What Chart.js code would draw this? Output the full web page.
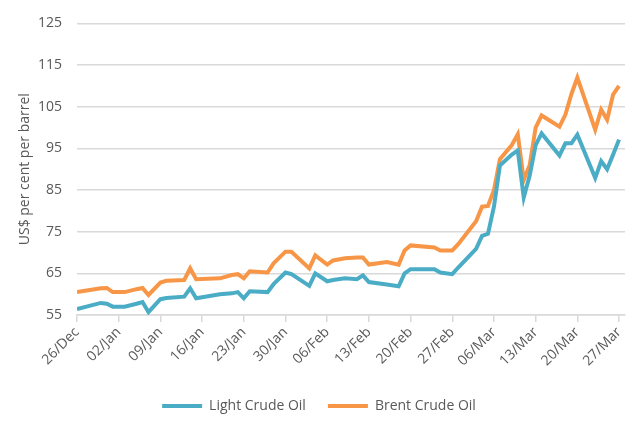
<!DOCTYPE html>
<html>
<head>
<meta charset="utf-8">
<script src="https://cdn.jsdelivr.net/npm/chart.js@4"></script>
<style>
  html, body { margin: 0; padding: 0; background: #fff; }
  #wrap { width: 636px; height: 423px; }
</style>
</head>
<body>
<div id="wrap"><canvas id="oilPrices"></canvas></div>
<script>
// day index counted from 26/Dec (only the days where the line turns)
const days = [0, 4, 5, 6, 8, 10, 11, 12, 14, 15, 18, 19, 20, 24, 26, 27, 28, 29, 32, 33,
  35, 36, 39, 40, 42, 43, 45, 47, 48, 49, 52, 54, 55, 56, 60, 61, 63, 64, 67, 68,
  69, 70, 71, 73, 74, 75, 76, 77, 78, 81, 82, 83, 84, 87, 88, 89, 90, 91];
const lightCrude = [56.4, 57.9, 57.7, 57.0, 57.0, 57.7, 58.1, 55.7, 58.8, 59.1, 59.4, 61.4, 59.0, 60.0, 60.2, 60.5, 59.0, 60.7, 60.5, 62.4,
  65.2, 64.8, 62.0, 65.0, 63.1, 63.4, 63.8, 63.6, 64.5, 62.9, 62.3, 61.9, 65.0, 66.0, 66.0, 65.2, 64.8, 66.4, 70.9, 74.0,
  74.5, 81.0, 90.9, 93.5, 94.5, 83.2, 88.5, 95.8, 98.6, 93.3, 96.2, 96.2, 98.3, 87.9, 91.9, 90.0, 93.5, 97.1];
const brentCrude = [60.5, 61.4, 61.5, 60.5, 60.5, 61.2, 61.5, 59.8, 62.8, 63.2, 63.4, 66.2, 63.6, 63.8, 64.6, 64.8, 63.8, 65.5, 65.2, 67.4,
  70.2, 70.2, 66.2, 69.3, 67.1, 68.1, 68.6, 68.8, 68.8, 67.1, 67.7, 67.1, 70.5, 71.7, 71.2, 70.5, 70.5, 72.0, 77.5, 81.0,
  81.2, 85.0, 92.4, 95.8, 98.4, 87.4, 91.0, 100.0, 102.9, 100.2, 103.1, 108.0, 112.0, 99.5, 104.3, 101.9, 107.9, 110.0];
const tickLabels = ['26/Dec', '02/Jan', '09/Jan', '16/Jan', '23/Jan', '30/Jan', '06/Feb',
  '13/Feb', '20/Feb', '27/Feb', '06/Mar', '13/Mar', '20/Mar', '27/Mar'];

const textColor = '#595959';
const fontFamily = '"Open Sans", sans-serif';

const oilPrices = new Chart(document.getElementById('oilPrices'), {
  type: 'line',
  data: {
    datasets: [
      {
        label: 'Light Crude Oil',
        data: days.map((d, i) => ({ x: d, y: lightCrude[i] })),
        borderColor: '#4BACC6',
        backgroundColor: '#4BACC6',
        borderWidth: 4,
        pointRadius: 0,
        tension: 0,
      },
      {
        label: 'Brent Crude Oil',
        data: days.map((d, i) => ({ x: d, y: brentCrude[i] })),
        borderColor: '#F79646',
        backgroundColor: '#F79646',
        borderWidth: 4,
        pointRadius: 0,
        tension: 0,
      },
    ],
  },
  options: {
    responsive: true,
    maintainAspectRatio: false,
    animation: false,
    layout: { padding: { left: 13, right: 11, top: 11, bottom: 0 } },
    plugins: {
      tooltip: { enabled: false },
      legend: {
        position: 'bottom',
        labels: {
          usePointStyle: true,
          pointStyle: 'line',
          pointStyleWidth: 40,
          padding: 22,
          color: textColor,
          font: { family: fontFamily, size: 14 },
        },
      },
    },
    scales: {
      x: {
        type: 'linear',
        min: 0,
        max: 92,
        afterFit: (scale) => { scale.height = 62; },
        ticks: {
          stepSize: 7,
          includeBounds: false,
          autoSkip: false,
          maxRotation: 45,
          minRotation: 45,
          padding: 2,
          color: textColor,
          font: { family: fontFamily, size: 14 },
          callback: (v) => tickLabels[v / 7],
        },
        grid: {
          drawOnChartArea: false,
          drawTicks: true,
          tickLength: 7,
          color: '#d9d9d9',
          lineWidth: 1.5,
        },
        border: { display: true, color: '#d9d9d9', width: 1.5 },
      },
      y: {
        min: 55,
        max: 125,
        afterFit: (scale) => { scale.width = 64; },
        ticks: {
          stepSize: 10,
          padding: 15,
          color: textColor,
          font: { family: fontFamily, size: 14 },
        },
        title: {
          display: true,
          text: 'US$ per cent per barrel',
          color: textColor,
          padding: { top: 4, bottom: 0 },
          font: { family: fontFamily, size: 14 },
        },
        grid: {
          color: '#d9d9d9',
          lineWidth: 1.5,
          drawTicks: false,
        },
        border: { display: false },
      },
    },
  },
});
</script>
</body>
</html>
